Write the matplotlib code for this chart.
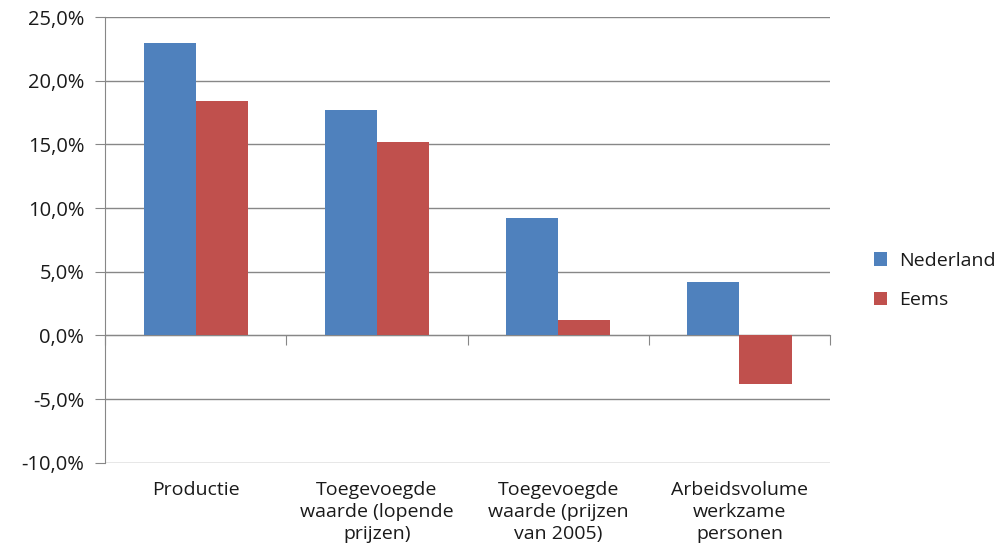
import numpy as np
import matplotlib.pyplot as plt
from matplotlib.ticker import FuncFormatter

categories = ['Productie', 'Toegevoegde\nwaarde (lopende\nprijzen)',
              'Toegevoegde\nwaarde (prijzen\nvan 2005)', 'Arbeidsvolume\nwerkzame\npersonen']
nederland = [23.0, 17.7, 9.2, 4.2]
eems = [18.4, 15.2, 1.2, -3.8]

plt.rcParams['font.family'] = ['Open Sans', 'DejaVu Sans']
grey = '#878787'
txt = '#1a1a1a'

fig = plt.figure(figsize=(10.05, 5.51), dpi=100)
ax = fig.add_axes([0.1045, 0.160, 0.7215, 0.809])

x = np.arange(len(categories))
w = 0.287
ax.bar(x - w / 2, nederland, w, color='#4F81BD', label='Nederland', zorder=3)
ax.bar(x + w / 2, eems, w, color='#C0504D', label='Eems', zorder=3)

ax.set_xlim(-0.5, len(categories) - 0.5)
ax.set_ylim(-10, 25)
ax.set_yticks(np.arange(-10, 26, 5))
ax.yaxis.set_major_formatter(FuncFormatter(lambda v, p: f'{v:.1f}%'.replace('.', ',')))
ax.grid(axis='y', color=grey, linewidth=1, zorder=0)
ax.set_xticks(x)
ax.set_xticklabels(categories, fontsize=14, linespacing=1.3, color=txt)
ax.tick_params(axis='x', length=0, pad=13)
ax.tick_params(axis='y', length=7, color=grey, labelsize=14.5, labelcolor=txt, pad=8)

for s in ['top', 'right', 'bottom']:
    ax.spines[s].set_visible(False)
ax.spines['left'].set_color(grey)

# category axis drawn along the zero line
zero_ax = ax.secondary_xaxis(10 / 35)
zero_ax.set_xticks(np.arange(-0.5, len(categories), 1.0))
zero_ax.set_xticklabels([])
zero_ax.tick_params(length=7, color=grey, direction='out')
zero_ax.spines['bottom'].set_color(grey)

leg = ax.legend(loc='center left', bbox_to_anchor=(0.852, 0.491), bbox_transform=fig.transFigure,
                frameon=False, fontsize=14, handlelength=0.7, handleheight=0.7,
                labelspacing=1.1, handletextpad=0.6)
for t in leg.get_texts():
    t.set_color(txt)

fig.savefig('out.png', dpi=100)
